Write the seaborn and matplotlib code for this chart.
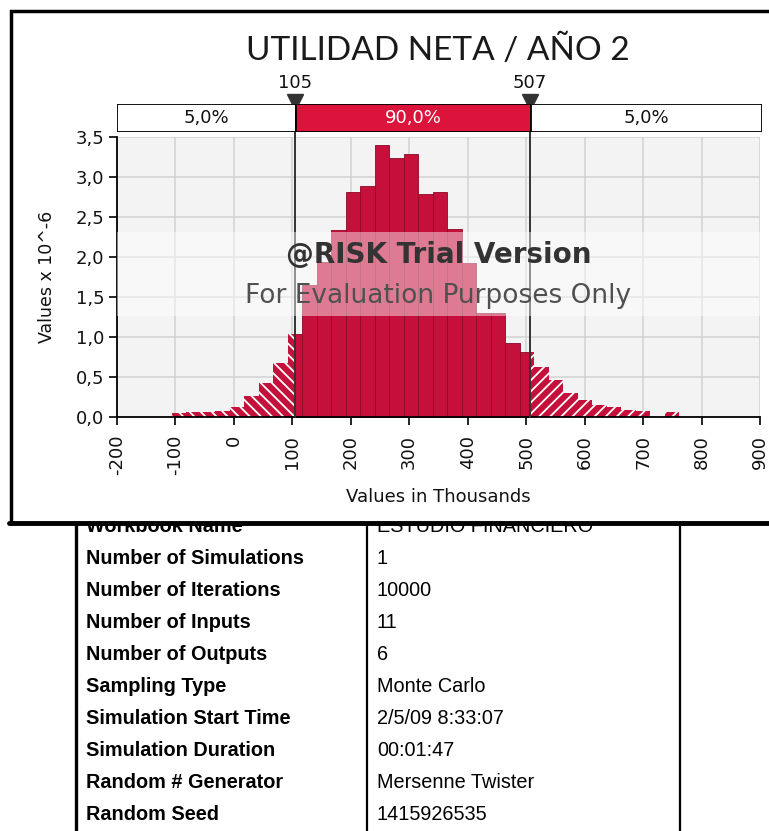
import numpy as np
import pandas as pd
import matplotlib
matplotlib.use("Agg")
import matplotlib.pyplot as plt
from matplotlib.patches import Rectangle
from matplotlib.lines import Line2D
import seaborn as sns

# histogram bins (values in thousands) and density (x 10^-6)
edges = [-106, -81.2, -56.4, -31.6, -6.8, 18, 42.8, 67.6, 92.4, 117.2, 142,
         166.8, 191.6, 216.4, 241.2, 266, 290.8, 315.6, 340.4, 365.2, 390,
         414.8, 439.6, 464.4, 489.2, 514, 538.8, 563.6, 588.4, 613.2, 638,
         662.8, 687.6, 712.4, 737.2, 762]
heights = [0.05, 0.055, 0.065, 0.075, 0.12, 0.26, 0.42, 0.67, 1.03,
           1.65, 1.94, 2.33, 2.81, 2.88, 3.40, 3.23, 3.28, 2.79, 2.81,
           2.35, 1.92, 1.30, 1.30, 0.92, 0.81, 0.625, 0.46, 0.30, 0.21,
           0.146, 0.12, 0.08, 0.075, 0.0, 0.055]

cutoffs = [105, 507]
cut_labels = ["105", "507"]
pct_labels = ["5,0%", "90,0%", "5,0%"]
x_ticks = [-200, -100, 0, 100, 200, 300, 400, 500, 600, 700, 800, 900]
y_ticks = [0.0, 0.5, 1.0, 1.5, 2.0, 2.5, 3.0, 3.5]
y_ticklabels = ["0,0", "0,5", "1,0", "1,5", "2,0", "2,5", "3,0", "3,5"]

row_labels = ["Workbook Name", "Number of Simulations", "Number of Iterations",
              "Number of Inputs", "Number of Outputs", "Sampling Type",
              "Simulation Start Time", "Simulation Duration",
              "Random # Generator", "Random Seed"]
row_values = ["ESTUDIO FINANCIERO", "1", "10000", "11", "6", "Monte Carlo",
              "2/5/09 8:33:07", "00:01:47", "Mersenne Twister", "1415926535"]

RED = "#C4103A"
W, H = 769, 831

sns.set_style("white")
plt.rcParams["font.family"] = ["DejaVu Sans"]
plt.rcParams["hatch.linewidth"] = 1.3

fig = plt.figure(figsize=(W / 100, H / 100), dpi=100)

def fx(px):
    return px / W

def fy(py):
    return 1 - py / H

# main histogram axes
ax = fig.add_axes([fx(116.7), fy(416.7), fx(760) - fx(116.7), fy(136.7) - fy(416.7)])
ax.set_zorder(3)
ax.set_facecolor("#f3f3f3")

hist = pd.DataFrame({
    "value": [(a + b) / 2 for a, b in zip(edges[:-1], edges[1:])],
    "density": heights,
})

def clip_new(start, x0, x1):
    for p in ax.patches[start:]:
        p.set_clip_path(Rectangle((x0, -1), x1 - x0, 10, transform=ax.transData))

n0 = len(ax.patches)
sns.histplot(data=hist, x="value", weights="density", bins=edges, ax=ax,
             color=RED, alpha=1, edgecolor="#8e0826", linewidth=0.6)
clip_new(n0, cutoffs[0], cutoffs[1])

n1 = len(ax.patches)
sns.histplot(data=hist, x="value", weights="density", bins=edges, ax=ax,
             facecolor=RED, alpha=1, edgecolor="white", linewidth=0,
             hatch="\\\\\\")
clip_new(n1, -300, cutoffs[0])

n2 = len(ax.patches)
sns.histplot(data=hist, x="value", weights="density", bins=edges, ax=ax,
             facecolor=RED, alpha=1, edgecolor="white", linewidth=0,
             hatch="///")
clip_new(n2, cutoffs[1], 1100)

ax.set_xlim(-200, 900)
ax.set_ylim(0, 3.5)
ax.set_xticks(x_ticks)
ax.set_xticklabels([str(t) for t in x_ticks], rotation=90)
ax.set_yticks(y_ticks)
ax.set_yticklabels(y_ticklabels)
ax.grid(True, color="#d2d2d2", linewidth=1.1)
ax.set_axisbelow(True)
for s in ["top", "right"]:
    ax.spines[s].set_visible(False)
for s in ["left", "bottom"]:
    ax.spines[s].set_color("black")
    ax.spines[s].set_linewidth(1.3)
ax.tick_params(axis="both", length=6, width=1.2, color="black",
               labelsize=13, pad=3, labelcolor="#111", left=True, bottom=True)
ax.tick_params(axis="x", pad=7)
ax.set_xlabel("Values in Thousands", fontsize=13, labelpad=9, color="#111")
ax.set_ylabel("Values x 10^-6", fontsize=12.5, labelpad=14, color="#111")

# cutoff lines, markers and values
for c, lab in zip(cutoffs, cut_labels):
    ax.plot([c, c], [0, 3.91], color="#333", linewidth=1.4, clip_on=False, zorder=4)
    ax.plot([c], [3.93], marker="v", markersize=12, color="#333",
            clip_on=False, zorder=6)
    ax.text(c, 4.17, lab, ha="center", va="center", fontsize=13,
            color="#111", clip_on=False)

# watermark band
ax.axhspan(1.26, 2.31, color="white", alpha=0.45, linewidth=0, zorder=5)
ax.text(0.5, 2.02, "@RISK Trial Version", transform=ax.get_yaxis_transform(),
        ha="center", va="center", fontsize=20, fontweight="bold",
        color="#333333", zorder=7)
ax.text(0.5, 1.51, "For Evaluation Purposes Only", transform=ax.get_yaxis_transform(),
        ha="center", va="center", fontsize=19, color="#505050", zorder=7)

# percent band above the plot
ax2 = fig.add_axes([fx(116.7), fy(132), fx(762) - fx(116.7), fy(104) - fy(132)])
ax2.set_zorder(4)
bounds = [-200] + cutoffs + [900]
seg_colors = ["white", "#DC143C", "white"]
txt_colors = ["#111", "white", "#111"]
for i, lab in enumerate(pct_labels):
    ax2.barh(0, bounds[i + 1] - bounds[i], left=bounds[i], height=1,
             color=seg_colors[i], edgecolor="black", linewidth=1.3)
    ax2.text((bounds[i] + bounds[i + 1]) / 2, 0, lab, ha="center",
             va="center", fontsize=13, color=txt_colors[i])
ax2.set_xlim(-200, 900)
ax2.set_ylim(-0.5, 0.5)
ax2.axis("off")

# title
fig.text(fx(438), fy(50), "UTILIDAD NETA / AÑO 2", ha="center", va="center",
         fontsize=24, color="#1a1a1a", family=["Lato", "DejaVu Sans"],
         fontweight="normal", zorder=5)

# chart frame
fig.add_artist(Rectangle((fx(10.7), fy(522.5)), fx(780) - fx(10.7),
                         fy(10.7) - fy(522.5), transform=fig.transFigure,
                         facecolor="white", edgecolor="black", linewidth=2.5,
                         zorder=2))
fig.add_artist(Line2D([fx(9), 1], [fy(523), fy(523)], transform=fig.transFigure,
                      color="black", linewidth=3.5, zorder=2))

# simulation summary table below
for i, (lab, val) in enumerate(zip(row_labels, row_values)):
    base = 532.5 + 31.9 * i
    fig.text(fx(86), fy(base), lab, ha="left", va="baseline", fontsize=14.3,
             fontweight="bold", family="Liberation Sans", color="black", zorder=1)
    fig.text(fx(377), fy(base), val, ha="left", va="baseline", fontsize=14.3,
             family="Liberation Sans", color="black", zorder=1)
for xp, lw in [(76, 2.4), (367, 1.6), (680, 1.6)]:
    fig.add_artist(Line2D([fx(xp), fx(xp)], [fy(522), 0], transform=fig.transFigure,
                          color="black", linewidth=lw, zorder=1))

fig.savefig("out.png", dpi=100)
